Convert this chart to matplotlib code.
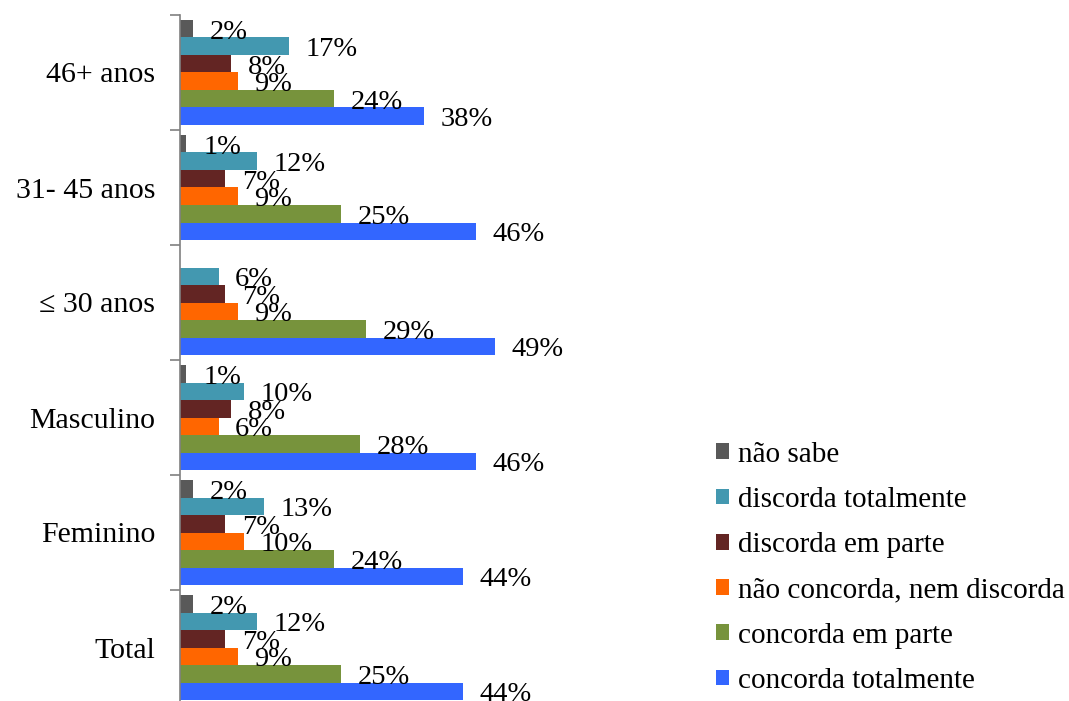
import numpy as np
import matplotlib
matplotlib.use("Agg")
import matplotlib.pyplot as plt

plt.rcParams['font.family'] = ['Liberation Serif', 'DejaVu Serif']

# groups, bottom to top
groups = ['Total', 'Feminino', 'Masculino', '\u2264 30 anos', '31- 45 anos', '46+ anos']

series = ['não sabe', 'discorda totalmente', 'discorda em parte',
          'não concorda, nem discorda', 'concorda em parte', 'concorda totalmente']
colors = ['#595959', '#4398B0', '#632523', '#FF6600', '#77933C', '#3366FF']

nao_sabe = [2, 2, 1, 0, 1, 2]
discorda_tot = [12, 13, 10, 6, 12, 17]
discorda_parte = [7, 7, 8, 7, 7, 8]
neutro = [9, 10, 6, 9, 9, 9]
concorda_parte = [25, 24, 28, 29, 25, 24]
concorda_tot = [44, 44, 46, 49, 46, 38]

values = [nao_sabe, discorda_tot, discorda_parte, neutro, concorda_parte, concorda_tot]

W, H = 1069, 701
fig = plt.figure(figsize=(W / 100, H / 100), dpi=100)
ax = fig.add_axes([180 / W, -4 / H, 514 / W, 690 / H])

y = np.arange(len(groups))
h = 17.5 / 115
for i, (name, vals, c) in enumerate(zip(series, values, colors)):
    pos = y + (2.5 - i) * h
    ax.barh(pos, vals, height=h, color=c, label=name, edgecolor='none')
    for p, v in zip(pos, vals):
        if v == 0:
            continue
        ax.annotate(f'{v}%', (v, p), xytext=(12, -2.5), textcoords='offset points',
                    va='center', ha='left', fontsize=20.5, color='black')

ax.set_xlim(0, 80)
ax.set_ylim(-0.5, len(groups) - 0.5)

for s in ['top', 'right', 'bottom']:
    ax.spines[s].set_visible(False)
ax.spines['left'].set_color('#808080')
ax.spines['left'].set_linewidth(1.2)
ax.set_xticks([])

ax.set_yticks(np.arange(-0.5, len(groups)), minor=False)
ax.set_yticklabels([])
ax.tick_params(axis='y', which='major', length=7, width=1.2, color='#808080', direction='out')
ax.set_yticks(y, minor=True)
ax.set_yticklabels(groups, minor=True, fontsize=21.5)
ax.tick_params(axis='y', which='minor', length=0, pad=18)

handles, labels = ax.get_legend_handles_labels()
fig.legend(handles, labels, loc='upper left', bbox_to_anchor=(704 / W, 1 - 430 / H),
           frameon=False, fontsize=21, handlelength=0.45, handleheight=0.45,
           handletextpad=0.3, labelspacing=0.66, borderaxespad=0)

fig.savefig('out.png', dpi=100)
